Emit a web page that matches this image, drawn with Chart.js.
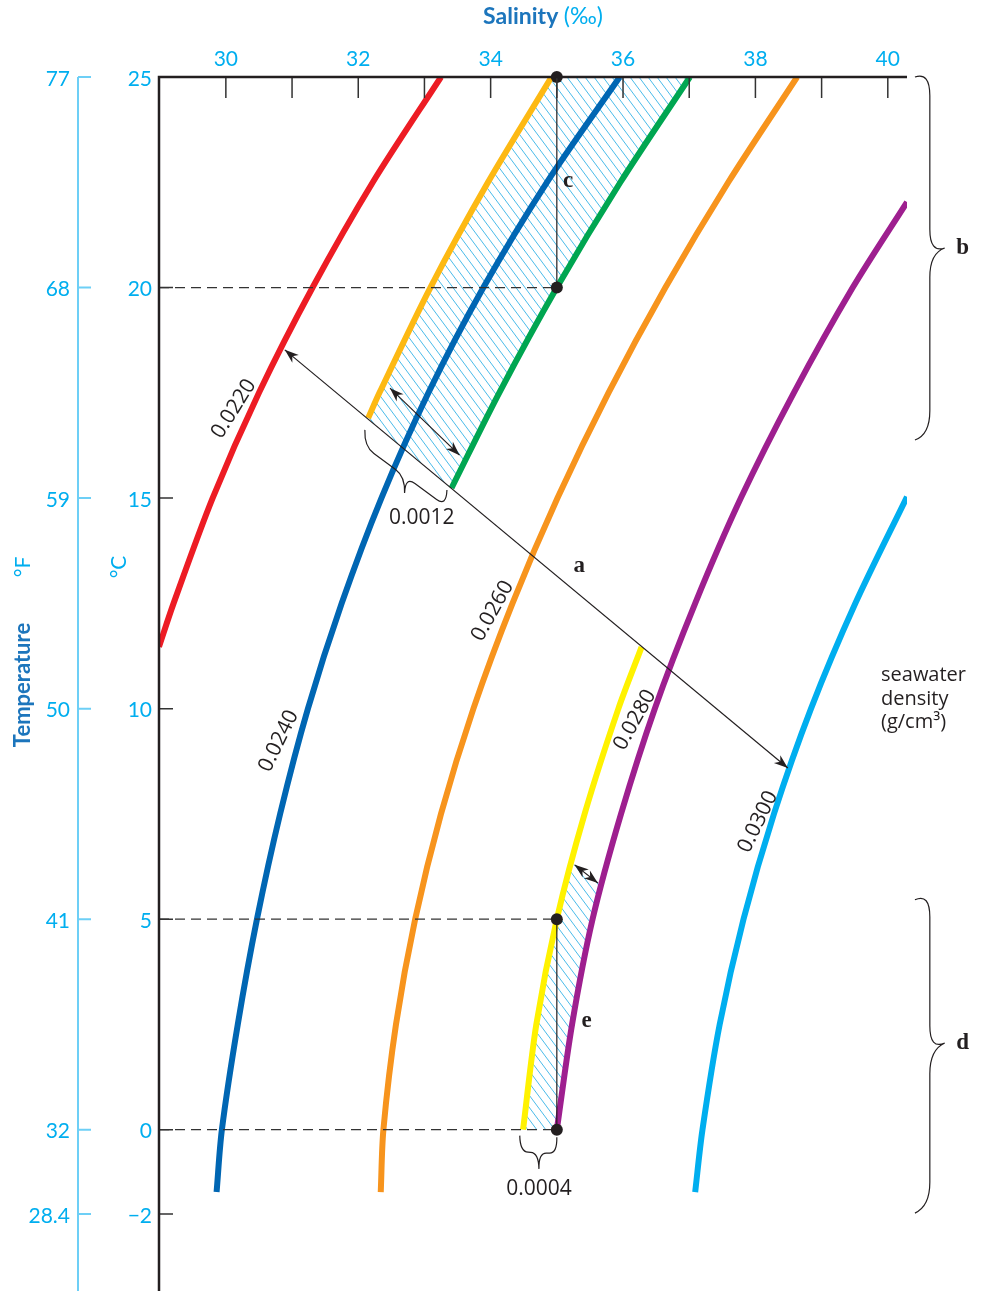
<!DOCTYPE html>
<html>
<head>
<meta charset="utf-8">
<title>Seawater density: temperature and salinity</title>
<script src="https://cdn.jsdelivr.net/npm/chart.js@4.4.1/dist/chart.umd.min.js"></script>
<style>
  html, body { margin: 0; padding: 0; background: #fff; }
  #wrap { width: 987px; height: 1291px; }
</style>
</head>
<body>
<div id="wrap"><canvas id="densityChart" width="987" height="1291"></canvas></div>
<script>
// density curves: salinity (‰) vs temperature (°C), cold end first
const redS = [28.99, 29.21, 29.80, 30.50, 31.31, 32.22, 33.25];
const redT = [11.47, 12.5, 15, 17.5, 20, 22.5, 25];

const goldS = [32.15, 32.32, 33.09, 33.96, 34.92];
const goldT = [16.90, 17.5, 20, 22.5, 25];

const blueS = [29.86, 29.94, 30.18, 30.47, 30.82, 31.24, 31.75, 32.35, 33.06, 33.89, 34.85, 35.95];
const blueT = [-1.48, 0, 2.5, 5, 7.5, 10, 12.5, 15, 17.5, 20, 22.5, 25];

const greenS = [33.41, 34.13, 35.00, 35.96, 37.01];
const greenT = [15.24, 17.5, 20, 22.5, 25];

const orangeS = [32.34, 32.38, 32.57, 32.86, 33.25, 33.74, 34.33, 35.01, 35.78, 36.64, 37.59, 38.63];
const orangeT = [-1.48, 0, 2.5, 5, 7.5, 10, 12.5, 15, 17.5, 20, 22.5, 25];

const yellowS = [34.49, 34.69, 35.00, 35.42, 35.93, 36.28];
const yellowT = [0, 2.5, 5, 7.5, 10, 11.46];

const purpleS = [35.00, 35.23, 35.54, 35.97, 36.48, 37.09, 37.78, 38.58, 39.47, 40.29];
const purpleT = [0, 2.5, 5, 7.5, 10, 12.5, 15, 17.5, 20, 22.03];

const skyS = [37.09, 37.20, 37.46, 37.82, 38.28, 38.84, 39.51, 40.29];
const skyT = [-1.48, 0, 2.5, 5, 7.5, 10, 12.5, 15.03];

// axes
const salinityTicks = [30, 31, 32, 33, 34, 35, 36, 37, 38, 39, 40];
const salinityLabels = [30, 32, 34, 36, 38, 40];
const celsiusTicks = [25, 20, 15, 10, 5, 0, -2];
const fahrenheitLabels = ['77', '68', '59', '50', '41', '32', '28.4'];

// annotations (salinity, temperature)
const refSalinity = 35;
const dotTemps = [25, 20, 5, 0];
const dashedTemps = [20, 5, 0];
const arrowA = [[30.89, 18.52], [38.49, 8.59]];
const arrowBand = [[32.48, 17.61], [33.53, 16.02]];
const arrowDeep = [[35.27, 6.29], [35.62, 5.86]];

const isoLabels = ['0.0220', '0.0240', '0.0260', '0.0280', '0.0300'];
const isoLabelS = [30.12, 30.80, 34.03, 36.18, 38.04];
const isoLabelT = [17.12, 9.23, 12.32, 9.73, 7.31];
const isoLabelAngle = [-58, -64, -61, -61, -64];

const letters = ['a', 'b', 'c', 'd', 'e'];
const letterS = [35.34, 41.13, 35.17, 41.13, 35.45];
const letterT = [13.39, 20.94, 22.53, 2.06, 2.58];

// braces: [end1, end2, tip]
const braceBand = [[32.10, 16.62], [33.34, 15.19], [32.70, 15.12]];
const braceDeep = [[34.44, -0.14], [35.00, -0.18], [34.73, -0.93]];
const braceB = [[40.41, 25], [40.41, 16.38], [40.86, 20.94]];
const braceD = [[40.41, 5.46], [40.41, -1.98], [40.86, 2.06]];

const CYAN = '#00aeef';
const MIDBLUE = '#1c75bc';
const INK = '#231f20';

const toPoints = (sal, temp) => sal.map((s, i) => ({ x: s, y: temp[i] }));

const curve = (label, sal, temp, color) => ({
  label,
  data: toPoints(sal, temp),
  showLine: true,
  borderColor: color,
  borderWidth: 6,
  borderCapStyle: 'butt',
  pointRadius: 0,
  tension: 0.3,
  fill: false,
  clip: 0,
});

const px = (chart, p) => ({
  x: chart.scales.x.getPixelForValue(p[0]),
  y: chart.scales.y.getPixelForValue(p[1]),
});

function curvePoints(chart, idx) {
  const meta = chart.getDatasetMeta(idx);
  if (meta.dataset && meta.dataset.updateControlPoints) {
    meta.dataset.updateControlPoints(chart.chartArea, 'x');
  }
  return meta.data;
}

function traceCurve(ctx, pts) {
  ctx.moveTo(pts[0].x, pts[0].y);
  for (let i = 1; i < pts.length; i++) {
    const a = pts[i - 1], b = pts[i];
    if (a.cp2x !== undefined && b.cp1x !== undefined) {
      ctx.bezierCurveTo(a.cp2x, a.cp2y, b.cp1x, b.cp1y, b.x, b.y);
    } else {
      ctx.lineTo(b.x, b.y);
    }
  }
}

// clip to the side of a curve (farX very large = right side, very small = left side)
function clipSide(ctx, pts, farX) {
  const first = pts[0], last = pts[pts.length - 1];
  ctx.beginPath();
  traceCurve(ctx, pts);
  ctx.lineTo(farX, last.y);
  ctx.lineTo(farX, 5000);
  ctx.lineTo(first.x, 5000);
  ctx.closePath();
  ctx.clip();
}

// clip above (dir = -1) or below (dir = 1) a straight line, optionally capped at yCap
function clipLine(ctx, p, q, dir, yCap) {
  const m = (q.y - p.y) / (q.x - p.x);
  const yAt = (xx) => p.y + m * (xx - p.x);
  ctx.beginPath();
  ctx.moveTo(-2000, yAt(-2000));
  ctx.lineTo(3000, yAt(3000));
  const edge = yCap !== undefined ? yCap : dir * 5000;
  ctx.lineTo(3000, edge);
  ctx.lineTo(-2000, edge);
  ctx.closePath();
  ctx.clip();
}

function hatchLines(ctx, area) {
  const slope = 1.35;
  const run = (area.bottom - area.top) / slope;
  ctx.strokeStyle = '#35b3e6';
  ctx.lineWidth = 0.9;
  ctx.beginPath();
  for (let x = area.left - run - ((area.left - run) % 9); x < area.right; x += 9) {
    ctx.moveTo(x, area.top);
    ctx.lineTo(x + run, area.bottom);
  }
  ctx.stroke();
}

function drawHatching(chart) {
  const { ctx, chartArea: area } = chart;
  const gold = curvePoints(chart, 1);
  const green = curvePoints(chart, 3);
  const yellow = curvePoints(chart, 5);
  const purple = curvePoints(chart, 6);

  ctx.save();
  ctx.beginPath();
  ctx.rect(area.left, area.top, area.right - area.left, area.bottom - area.top);
  ctx.clip();
  clipSide(ctx, gold, 5000);
  clipSide(ctx, green, -5000);
  clipLine(ctx, px(chart, arrowA[0]), px(chart, arrowA[1]), -1);
  hatchLines(ctx, area);
  ctx.restore();

  ctx.save();
  clipSide(ctx, yellow, 5000);
  clipSide(ctx, purple, -5000);
  clipLine(ctx, px(chart, arrowDeep[0]), px(chart, arrowDeep[1]), 1, chart.scales.y.getPixelForValue(0));
  hatchLines(ctx, area);
  ctx.restore();
}

function arrowHead(ctx, from, to) {
  const ang = Math.atan2(to.y - from.y, to.x - from.x);
  const len = 14, half = 5;
  const c = Math.cos(ang), s = Math.sin(ang);
  ctx.beginPath();
  ctx.moveTo(to.x, to.y);
  ctx.lineTo(to.x - len * c + half * s, to.y - len * s - half * c);
  ctx.lineTo(to.x - len * 0.7 * c, to.y - len * 0.7 * s);
  ctx.lineTo(to.x - len * c - half * s, to.y - len * s + half * c);
  ctx.closePath();
  ctx.fill();
}

function doubleArrow(chart, pair) {
  const { ctx } = chart;
  const a = px(chart, pair[0]), b = px(chart, pair[1]);
  ctx.strokeStyle = INK;
  ctx.fillStyle = INK;
  ctx.lineWidth = 1.2;
  ctx.beginPath();
  ctx.moveTo(a.x, a.y);
  ctx.lineTo(b.x, b.y);
  ctx.stroke();
  arrowHead(ctx, b, a);
  arrowHead(ctx, a, b);
}

function brace(chart, spec, q) {
  const { ctx } = chart;
  const p1 = px(chart, spec[0]), p2 = px(chart, spec[1]), tip = px(chart, spec[2]);
  const L = Math.hypot(p2.x - p1.x, p2.y - p1.y);
  const ux = (p2.x - p1.x) / L, uy = (p2.y - p1.y) / L;
  const dx = tip.x - (p1.x + p2.x) / 2, dy = tip.y - (p1.y + p2.y) / 2;
  const P = (s, k) => [p1.x + ux * s + dx * k, p1.y + uy * s + dy * k];
  ctx.strokeStyle = INK;
  ctx.lineWidth = 1.2;
  ctx.beginPath();
  ctx.moveTo(...P(0, 0));
  ctx.quadraticCurveTo(...P(0, 0.5), ...P(q, 0.5));
  ctx.lineTo(...P(L / 2 - q, 0.5));
  ctx.quadraticCurveTo(...P(L / 2, 0.5), ...P(L / 2, 1));
  ctx.quadraticCurveTo(...P(L / 2, 0.5), ...P(L / 2 + q, 0.5));
  ctx.lineTo(...P(L - q, 0.5));
  ctx.quadraticCurveTo(...P(L, 0.5), ...P(L, 0));
  ctx.stroke();
}

function drawFrame(chart) {
  const { ctx, chartArea: area, scales: { x, y } } = chart;
  ctx.save();

  // Fahrenheit scale
  const fx = area.left - 81;
  ctx.strokeStyle = '#6dcff6';
  ctx.lineWidth = 2;
  ctx.beginPath();
  ctx.moveTo(fx, area.top);
  ctx.lineTo(fx, area.bottom);
  celsiusTicks.forEach((c) => {
    const yy = y.getPixelForValue(c);
    ctx.moveTo(fx, yy);
    ctx.lineTo(fx + 13, yy);
  });
  ctx.stroke();

  // Celsius ticks
  ctx.strokeStyle = '#333';
  ctx.lineWidth = 1.5;
  ctx.beginPath();
  celsiusTicks.forEach((c) => {
    const yy = y.getPixelForValue(c);
    ctx.moveTo(area.left, yy);
    ctx.lineTo(area.left + 14, yy);
  });
  // salinity ticks, pointing down into the plot
  salinityTicks.forEach((s) => {
    const xx = x.getPixelForValue(s);
    ctx.moveTo(xx, area.top);
    ctx.lineTo(xx, area.top + 21);
  });
  ctx.stroke();

  // axis lines
  ctx.strokeStyle = INK;
  ctx.lineWidth = 2.5;
  ctx.beginPath();
  ctx.moveTo(area.left, area.bottom);
  ctx.lineTo(area.left, area.top);
  ctx.lineTo(area.right, area.top);
  ctx.stroke();

  // tick labels
  ctx.fillStyle = CYAN;
  ctx.font = '21px Lato';
  ctx.textAlign = 'center';
  ctx.textBaseline = 'alphabetic';
  salinityLabels.forEach((s) => {
    ctx.fillText(String(s), x.getPixelForValue(s), area.top - 11);
  });
  ctx.textAlign = 'right';
  ctx.textBaseline = 'middle';
  celsiusTicks.forEach((c, i) => {
    const yy = y.getPixelForValue(c) + 2;
    ctx.fillText(c < 0 ? '\u2212' + Math.abs(c) : String(c), area.left - 7, yy);
    ctx.fillText(fahrenheitLabels[i], fx - 8, yy);
  });

  // titles
  ctx.textBaseline = 'alphabetic';
  ctx.textAlign = 'left';
  ctx.font = 'bold 23px Lato';
  const w1 = ctx.measureText('Salinity ').width;
  ctx.font = '23px Lato';
  const w2 = ctx.measureText('(\u2030)').width;
  const tx = 543 - (w1 + w2) / 2;
  ctx.font = 'bold 23px Lato';
  ctx.fillStyle = MIDBLUE;
  ctx.fillText('Salinity ', tx, 24);
  ctx.font = '23px Lato';
  ctx.fillStyle = CYAN;
  ctx.fillText('(\u2030)', tx + w1, 24);

  const vText = (txt, cx, cy, font, color) => {
    ctx.save();
    ctx.translate(cx, cy);
    ctx.rotate(-Math.PI / 2);
    ctx.font = font;
    ctx.fillStyle = color;
    ctx.textAlign = 'center';
    ctx.textBaseline = 'middle';
    ctx.fillText(txt, 0, 0);
    ctx.restore();
  };
  vText('Temperature', 23, 685, 'bold 22px Lato', MIDBLUE);
  vText('\u00b0F', 23, 567, '21px Lato', CYAN);
  vText('\u00b0C', 119, 567, '21px Lato', CYAN);

  ctx.restore();
}

function drawMarks(chart) {
  const { ctx, chartArea: area, scales: { x, y } } = chart;
  const xr = x.getPixelForValue(refSalinity);
  ctx.save();

  // dashed guides
  ctx.strokeStyle = '#333';
  ctx.lineWidth = 1.3;
  ctx.setLineDash([10, 6]);
  ctx.beginPath();
  dashedTemps.forEach((t) => {
    const yy = y.getPixelForValue(t);
    ctx.moveTo(area.left, yy);
    ctx.lineTo(xr, yy);
  });
  ctx.stroke();
  ctx.setLineDash([]);

  // vertical guides at S = 35
  ctx.strokeStyle = INK;
  ctx.lineWidth = 1.2;
  ctx.beginPath();
  ctx.moveTo(xr, y.getPixelForValue(25));
  ctx.lineTo(xr, y.getPixelForValue(20));
  ctx.moveTo(xr, y.getPixelForValue(5));
  ctx.lineTo(xr, y.getPixelForValue(0));
  ctx.stroke();

  doubleArrow(chart, arrowA);
  doubleArrow(chart, arrowBand);
  doubleArrow(chart, arrowDeep);

  brace(chart, braceBand, 12);
  brace(chart, braceDeep, 8);
  brace(chart, braceB, 24);
  brace(chart, braceD, 24);

  ctx.fillStyle = INK;
  dotTemps.forEach((t) => {
    ctx.beginPath();
    ctx.arc(xr, y.getPixelForValue(t), 6, 0, Math.PI * 2);
    ctx.fill();
  });

  // curve labels
  ctx.font = '21px "Open Sans"';
  ctx.textAlign = 'center';
  ctx.textBaseline = 'middle';
  isoLabels.forEach((txt, i) => {
    const p = px(chart, [isoLabelS[i], isoLabelT[i]]);
    ctx.save();
    ctx.translate(p.x, p.y);
    ctx.rotate(isoLabelAngle[i] * Math.PI / 180);
    ctx.fillText(txt, 0, 0);
    ctx.restore();
  });

  let p = px(chart, [32.96, 14.53]);
  ctx.fillText('0.0012', p.x, p.y);
  p = px(chart, [34.73, -1.40]);
  ctx.fillText('0.0004', p.x, p.y);

  ctx.textAlign = 'left';
  ctx.font = '20px "Open Sans"';
  ctx.fillText('seawater', area.right - 26, 675);
  ctx.fillText('density', area.right - 26, 699);
  ctx.fillText('(g/cm\u00b3)', area.right - 26, 722);

  ctx.textAlign = 'center';
  ctx.font = 'bold 23px "Liberation Serif"';
  letters.forEach((l, i) => {
    const q = px(chart, [letterS[i], letterT[i]]);
    ctx.fillText(l, q.x, q.y);
  });

  ctx.restore();
}

const overlay = {
  id: 'overlay',
  beforeDatasetsDraw(chart) {
    drawHatching(chart);
  },
  afterDraw(chart) {
    drawMarks(chart);
    drawFrame(chart);
  },
};

const ctx = document.getElementById('densityChart').getContext('2d');

new Chart(ctx, {
  type: 'scatter',
  data: {
    datasets: [
      curve('0.0220', redS, redT, '#ed1c24'),
      curve('0.0230', goldS, goldT, '#fdb913'),
      curve('0.0240', blueS, blueT, '#0066b3'),
      curve('0.0250', greenS, greenT, '#00a651'),
      curve('0.0260', orangeS, orangeT, '#f7941d'),
      curve('0.0276', yellowS, yellowT, '#fff200'),
      curve('0.0280', purpleS, purpleT, '#9e1f8f'),
      curve('0.0300', skyS, skyT, '#00aeef'),
    ],
  },
  options: {
    responsive: false,
    animation: false,
    devicePixelRatio: 1,
    events: [],
    layout: { padding: { left: 159, right: 80, top: 77, bottom: 0 } },
    plugins: {
      legend: { display: false },
      tooltip: { enabled: false },
    },
    scales: {
      x: { type: 'linear', min: 28.99, max: 40.29, display: false },
      y: { type: 'linear', min: -3.83, max: 25, display: false },
    },
  },
  plugins: [overlay],
});
</script>
</body>
</html>
